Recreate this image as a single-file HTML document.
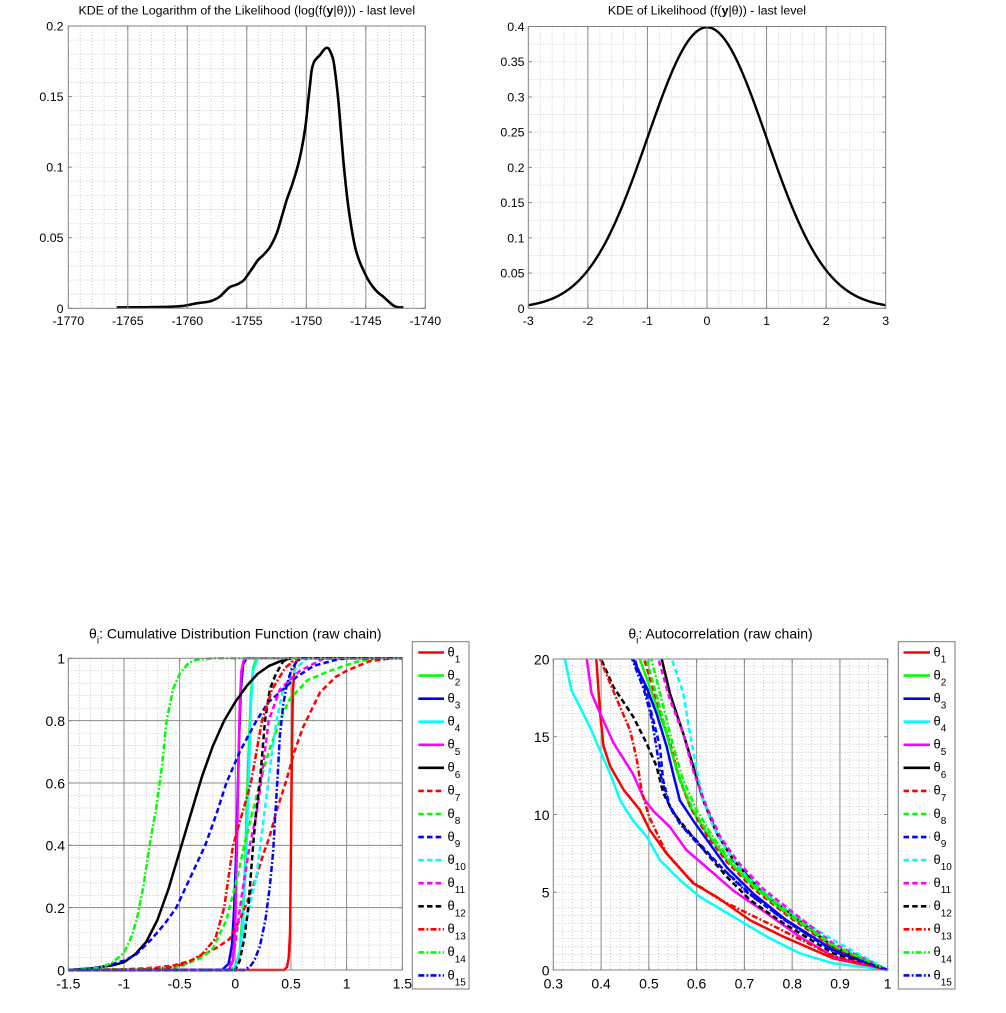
<!DOCTYPE html>
<html><head><meta charset="utf-8">
<style>
html,body{margin:0;padding:0;background:#fff;}
svg{display:block;font-family:"Liberation Sans",Arial,sans-serif;}
</style></head>
<body>
<svg id="s" width="1006" height="1013" viewBox="0 0 1006 1013" xmlns="http://www.w3.org/2000/svg">
<defs>
<clipPath id="c1"><rect x="68.3" y="25" width="357" height="284"/></clipPath>
<clipPath id="c2"><rect x="528.3" y="25.5" width="357.4" height="283.8"/></clipPath>
<clipPath id="c3"><rect x="67.3" y="657" width="336" height="314.5"/></clipPath>
<clipPath id="c4"><rect x="552.3" y="659" width="336.4" height="312.5"/></clipPath>
</defs>
<rect width="1006" height="1013" fill="#fff"/>
<g id="grid"></g>
<g id="curves"></g>
<g id="frames"></g>
<g id="legend"></g>

<g fill="#000">
<!-- Top-left -->
<text x="246.8" y="14.4" font-size="12.4" text-anchor="middle">KDE of the Logarithm of the Likelihood (log(f(<tspan font-weight="bold">y</tspan>|θ))) - last level</text>
<g font-size="12.4" text-anchor="middle">
<text x="68.3" y="325">-1770</text><text x="127.8" y="325">-1765</text><text x="187.3" y="325">-1760</text><text x="246.8" y="325">-1755</text><text x="306.3" y="325">-1750</text><text x="365.8" y="325">-1745</text><text x="425.3" y="325">-1740</text>
</g>
<g font-size="12.4" text-anchor="end">
<text x="63.5" y="312.8">0</text><text x="63.5" y="242.2">0.05</text><text x="63.5" y="171.7">0.1</text><text x="63.5" y="101.1">0.15</text><text x="63.5" y="30.5">0.2</text>
</g>

<!-- Top-right -->
<text x="707" y="14.4" font-size="12.4" text-anchor="middle">KDE of Likelihood (f(<tspan font-weight="bold">y</tspan>|θ)) - last level</text>
<g font-size="12.4" text-anchor="middle">
<text x="528.3" y="325">-3</text><text x="587.9" y="325">-2</text><text x="647.4" y="325">-1</text><text x="707" y="325">0</text><text x="766.6" y="325">1</text><text x="826.2" y="325">2</text><text x="885.7" y="325">3</text>
</g>
<g font-size="12.4" text-anchor="end">
<text x="524.5" y="312.8">0</text><text x="524.5" y="277.6">0.05</text><text x="524.5" y="242.4">0.1</text><text x="524.5" y="207.1">0.15</text><text x="524.5" y="171.9">0.2</text><text x="524.5" y="136.7">0.25</text><text x="524.5" y="101.5">0.3</text><text x="524.5" y="66.2">0.35</text><text x="524.5" y="31">0.4</text>
</g>

<!-- Bottom-left -->
<text x="235.3" y="638.5" font-size="14" text-anchor="middle">θ<tspan font-size="10" dy="5">i</tspan><tspan dy="-5">: Cumulative Distribution Function (raw chain)</tspan></text>
<g font-size="14" text-anchor="middle">
<text x="68.3" y="988.3">-1.5</text><text x="124" y="988.3">-1</text><text x="179.6" y="988.3">-0.5</text><text x="235.3" y="988.3">0</text><text x="291" y="988.3">0.5</text><text x="346.6" y="988.3">1</text><text x="402.3" y="988.3">1.5</text>
</g>
<g font-size="14" text-anchor="end">
<text x="65" y="975.3">0</text><text x="65" y="913">0.2</text><text x="65" y="850.6">0.4</text><text x="65" y="788.3">0.6</text><text x="65" y="725.9">0.8</text><text x="65" y="663.6">1</text>
</g>

<!-- Bottom-right -->
<text x="720.5" y="638.5" font-size="14" text-anchor="middle">θ<tspan font-size="10" dy="5">i</tspan><tspan dy="-5">: Autocorrelation (raw chain)</tspan></text>
<g font-size="14" text-anchor="middle">
<text x="553.3" y="988.3">0.3</text><text x="601.1" y="988.3">0.4</text><text x="648.9" y="988.3">0.5</text><text x="696.6" y="988.3">0.6</text><text x="744.4" y="988.3">0.7</text><text x="792.2" y="988.3">0.8</text><text x="840" y="988.3">0.9</text><text x="887.7" y="988.3">1</text>
</g>
<g font-size="14" text-anchor="end">
<text x="549.5" y="975.3">0</text><text x="549.5" y="897.6">5</text><text x="549.5" y="819.8">10</text><text x="549.5" y="742.1">15</text><text x="549.5" y="664.3">20</text>
</g>
</g>

<!-- legend boxes -->
<rect x="412.3" y="641.7" width="56.7" height="347.3" fill="#fff" stroke="#7a7a7a" stroke-width="1"/>
<rect x="898.3" y="641.7" width="56.7" height="347.3" fill="#fff" stroke="#7a7a7a" stroke-width="1"/>
<g id="leglines"></g>
<g font-size="13" fill="#000">
<text x="447.5" y="656.3">θ<tspan font-size="10" dy="6.2">1</tspan></text>
<text x="447.5" y="679.4">θ<tspan font-size="10" dy="6.2">2</tspan></text>
<text x="447.5" y="702.4">θ<tspan font-size="10" dy="6.2">3</tspan></text>
<text x="447.5" y="725.5">θ<tspan font-size="10" dy="6.2">4</tspan></text>
<text x="447.5" y="748.6">θ<tspan font-size="10" dy="6.2">5</tspan></text>
<text x="447.5" y="771.7">θ<tspan font-size="10" dy="6.2">6</tspan></text>
<text x="447.5" y="794.7">θ<tspan font-size="10" dy="6.2">7</tspan></text>
<text x="447.5" y="817.8">θ<tspan font-size="10" dy="6.2">8</tspan></text>
<text x="447.5" y="840.9">θ<tspan font-size="10" dy="6.2">9</tspan></text>
<text x="447.5" y="863.9">θ<tspan font-size="10" dy="6.2">10</tspan></text>
<text x="447.5" y="887">θ<tspan font-size="10" dy="6.2">11</tspan></text>
<text x="447.5" y="910.1">θ<tspan font-size="10" dy="6.2">12</tspan></text>
<text x="447.5" y="933.1">θ<tspan font-size="10" dy="6.2">13</tspan></text>
<text x="447.5" y="956.2">θ<tspan font-size="10" dy="6.2">14</tspan></text>
<text x="447.5" y="979.3">θ<tspan font-size="10" dy="6.2">15</tspan></text>

<text x="933.5" y="656.3">θ<tspan font-size="10" dy="6.2">1</tspan></text>
<text x="933.5" y="679.4">θ<tspan font-size="10" dy="6.2">2</tspan></text>
<text x="933.5" y="702.4">θ<tspan font-size="10" dy="6.2">3</tspan></text>
<text x="933.5" y="725.5">θ<tspan font-size="10" dy="6.2">4</tspan></text>
<text x="933.5" y="748.6">θ<tspan font-size="10" dy="6.2">5</tspan></text>
<text x="933.5" y="771.7">θ<tspan font-size="10" dy="6.2">6</tspan></text>
<text x="933.5" y="794.7">θ<tspan font-size="10" dy="6.2">7</tspan></text>
<text x="933.5" y="817.8">θ<tspan font-size="10" dy="6.2">8</tspan></text>
<text x="933.5" y="840.9">θ<tspan font-size="10" dy="6.2">9</tspan></text>
<text x="933.5" y="863.9">θ<tspan font-size="10" dy="6.2">10</tspan></text>
<text x="933.5" y="887">θ<tspan font-size="10" dy="6.2">11</tspan></text>
<text x="933.5" y="910.1">θ<tspan font-size="10" dy="6.2">12</tspan></text>
<text x="933.5" y="933.1">θ<tspan font-size="10" dy="6.2">13</tspan></text>
<text x="933.5" y="956.2">θ<tspan font-size="10" dy="6.2">14</tspan></text>
<text x="933.5" y="979.3">θ<tspan font-size="10" dy="6.2">15</tspan></text>
</g>
</svg>
<script>
(function(){
const NS="http://www.w3.org/2000/svg";
function el(tag,attrs,parent){const e=document.createElementNS(NS,tag);for(const k in attrs)e.setAttribute(k,attrs[k]);parent.appendChild(e);return e;}
const grid=document.getElementById('grid'),curves=document.getElementById('curves'),frames=document.getElementById('frames'),leg=document.getElementById('leglines');
const MAJ='#8c8c8c',MIN='#bdbdbd',BOX='#808080';
function isMul(v,s){const r=v/s;return Math.abs(r-Math.round(r))<1e-6;}
function mkAxes(a){
  const X=v=>a.L+(v-a.x0)/(a.x1-a.x0)*(a.R-a.L);
  const Y=v=>a.B-(v-a.y0)/(a.y1-a.y0)*(a.B-a.T);
  let n=Math.round((a.x1-a.x0)/a.xm);
  for(let i=1;i<n;i++){const v=a.x0+i*a.xm;const px=X(v);
    if(isMul(v-a.x0,a.xM)) el('line',{x1:px,x2:px,y1:a.T,y2:a.B,stroke:MAJ,'stroke-width':1},grid);
    else el('line',{x1:px,x2:px,y1:a.T,y2:a.B,stroke:MIN,'stroke-width':0.8,'stroke-dasharray':'1,2'},grid);}
  n=Math.round((a.y1-a.y0)/a.ym);
  for(let i=1;i<n;i++){const v=a.y0+i*a.ym;const py=Y(v);
    if(isMul(v-a.y0,a.yM)&&a.hSolid) el('line',{x1:a.L,x2:a.R,y1:py,y2:py,stroke:MAJ,'stroke-width':1},grid);
    else el('line',{x1:a.L,x2:a.R,y1:py,y2:py,stroke:MIN,'stroke-width':0.8,'stroke-dasharray':'1,2'},grid);}
  el('rect',{x:a.L,y:a.T,width:a.R-a.L,height:a.B-a.T,fill:'none',stroke:BOX,'stroke-width':1},frames);
  const tl=3.5;
  n=Math.round((a.x1-a.x0)/a.xM);
  for(let i=0;i<=n;i++){const px=X(a.x0+i*a.xM);
    el('line',{x1:px,x2:px,y1:a.B,y2:a.B-tl,stroke:BOX,'stroke-width':1},frames);
    el('line',{x1:px,x2:px,y1:a.T,y2:a.T+tl,stroke:BOX,'stroke-width':1},frames);}
  n=Math.round((a.y1-a.y0)/a.yM);
  for(let i=0;i<=n;i++){const py=Y(a.y0+i*a.yM);
    el('line',{x1:a.L,x2:a.L+tl,y1:py,y2:py,stroke:BOX,'stroke-width':1},frames);
    el('line',{x1:a.R,x2:a.R-tl,y1:py,y2:py,stroke:BOX,'stroke-width':1},frames);}
  return {X,Y};
}
const A1=mkAxes({L:68.3,T:26,R:425.3,B:308.3,x0:-1770,x1:-1740,y0:0,y1:0.2,xM:5,xm:1,yM:0.05,ym:0.01,hSolid:false});
const A2=mkAxes({L:528.3,T:26.5,R:885.7,B:308.3,x0:-3,x1:3,y0:0,y1:0.4,xM:1,xm:0.2,yM:0.05,ym:0.025,hSolid:false});
const A3=mkAxes({L:68.3,T:658.3,R:402.3,B:970,x0:-1.5,x1:1.5,y0:0,y1:1,xM:0.5,xm:0.1,yM:0.2,ym:0.04,hSolid:true});
const A4=mkAxes({L:553.3,T:659,R:887.7,B:970,x0:0.3,x1:1,y0:0,y1:20,xM:0.1,xm:0.02,yM:5,ym:0.5,hSolid:false});

function poly(pts){return 'M'+pts.map(p=>p[0].toFixed(2)+','+p[1].toFixed(2)).join('L');}
function smooth(pts){let d='M'+pts[0][0]+','+pts[0][1];
  for(let i=0;i<pts.length-1;i++){const p0=pts[i-1]||pts[i],p1=pts[i],p2=pts[i+1],p3=pts[i+2]||p2;
    const c1=[p1[0]+(p2[0]-p0[0])/6,p1[1]+(p2[1]-p0[1])/6];const c2=[p2[0]-(p3[0]-p1[0])/6,p2[1]-(p3[1]-p1[1])/6];
    d+='C'+c1[0].toFixed(2)+','+c1[1].toFixed(2)+' '+c2[0].toFixed(2)+','+c2[1].toFixed(2)+' '+p2[0].toFixed(2)+','+p2[1].toFixed(2);}
  return d;}

// top-left curve (pixel coords)
const tl=[[116.7,307.4],[140,307.3],[166.7,306.9],[180,306.2],[186.7,305.4],[193,304],[200,302.8],[206.7,302],[213.3,300.2],[220,296.5],[225,291.5],[230,287],[236.7,284.6],[243.3,280.7],[248,274.5],[253.3,267],[258,260],[263.3,255],[270,247],[276.7,233.3],[281.7,217],[286.7,200],[291.7,186],[296.7,170],[300,157],[303.3,140],[306,122],[308.3,100],[310,85],[311.7,70],[314,62],[316.7,58.3],[320,55],[323.3,50.5],[326,48],[328.3,48.3],[330.5,52],[333.3,60],[335.5,75],[338.3,100],[340.8,130],[343.3,160],[345.8,185],[348.3,206.7],[351.5,228],[355,246.7],[359,260],[363.3,270],[368,279.5],[373.3,287.3],[378,292.5],[383.3,296.7],[388,301],[393.3,305.5],[398,307.3],[403.3,307.4]];
el('path',{d:smooth(tl),fill:'none',stroke:'#000','stroke-width':2.6,'stroke-linejoin':'round','clip-path':'url(#c1)'},curves);

// top-right: normal pdf
const tr=[];for(let x=-3;x<=3.0001;x+=0.04){tr.push([A2.X(x),A2.Y(Math.exp(-x*x/2)/Math.sqrt(2*Math.PI))]);}
el('path',{d:poly(tr),fill:'none',stroke:'#000','stroke-width':2.4,'stroke-linejoin':'round','clip-path':'url(#c2)'},curves);

const DASH={s:null,d:'5.5,3.2',dd:'6,2.2,1.8,2.2'};
const COLS=['#ff0000','#00ff00','#0000ff','#00ffff','#ff00ff','#000000','#ff0000','#00ff00','#0000ff','#00ffff','#ff00ff','#000000','#ff0000','#00ff00','#0000ff'];
const STY=['s','s','s','s','s','s','d','d','d','d','d','d','dd','dd','dd'];

const cdf=[
[[-1.5,0],[0.44,0],[0.465,0.01],[0.48,0.04],[0.492,0.12],[0.5,0.4],[0.508,0.7],[0.518,0.9],[0.535,0.98],[0.57,1],[1.5,1]],
[[-1.5,0],[-0.05,0],[0.0,0.01],[0.04,0.06],[0.07,0.2],[0.09,0.35],[0.1,0.5],[0.12,0.7],[0.14,0.88],[0.16,0.97],[0.19,1],[1.5,1]],
[[-1.5,0],[-0.12,0],[-0.06,0.02],[-0.03,0.08],[-0.01,0.2],[0.01,0.4],[0.02,0.55],[0.035,0.75],[0.05,0.9],[0.07,0.98],[0.1,1],[1.5,1]],
[[-1.5,0],[-0.02,0],[0.03,0.03],[0.07,0.15],[0.1,0.4],[0.12,0.6],[0.14,0.85],[0.16,0.96],[0.2,1],[1.5,1]],
[[-1.5,0],[-0.06,0],[-0.02,0.03],[0.0,0.15],[0.015,0.4],[0.025,0.6],[0.04,0.85],[0.055,0.96],[0.08,1],[1.5,1]],
[[-1.5,0],[-1.3,0.005],[-1.1,0.015],[-1.0,0.025],[-0.9,0.05],[-0.8,0.09],[-0.7,0.16],[-0.6,0.26],[-0.5,0.38],[-0.4,0.5],[-0.3,0.62],[-0.2,0.72],[-0.1,0.8],[0.0,0.86],[0.1,0.91],[0.2,0.95],[0.3,0.975],[0.4,0.99],[0.5,1],[1.5,1]],
[[-1.5,0],[-1.0,0.002],[-0.7,0.008],[-0.55,0.015],[-0.4,0.03],[-0.28,0.05],[-0.15,0.075],[-0.05,0.1],[0.04,0.16],[0.12,0.23],[0.19,0.3],[0.25,0.37],[0.31,0.43],[0.37,0.51],[0.46,0.61],[0.53,0.7],[0.61,0.78],[0.76,0.89],[0.9,0.94],[1.0,0.96],[1.2,0.99],[1.4,1],[1.5,1]],
[[-1.5,0],[-1.0,0.002],[-0.7,0.005],[-0.5,0.01],[-0.3,0.04],[-0.2,0.07],[-0.08,0.16],[0.02,0.3],[0.08,0.4],[0.15,0.5],[0.22,0.6],[0.3,0.7],[0.4,0.8],[0.49,0.87],[0.65,0.93],[0.85,0.96],[1.1,0.99],[1.3,1],[1.5,1]],
[[-1.5,0],[-1.3,0.005],[-1.2,0.01],[-1.0,0.03],[-0.89,0.05],[-0.75,0.1],[-0.63,0.15],[-0.53,0.2],[-0.4,0.3],[-0.27,0.4],[-0.17,0.5],[-0.08,0.6],[0.04,0.7],[0.19,0.8],[0.3,0.86],[0.43,0.9],[0.55,0.94],[0.7,0.975],[0.9,0.995],[1.0,1],[1.5,1]],
[[-1.5,0],[-0.02,0],[0.03,0.04],[0.1,0.16],[0.19,0.3],[0.26,0.5],[0.33,0.7],[0.37,0.8],[0.43,0.9],[0.55,0.97],[0.65,1],[1.5,1]],
[[-1.5,0],[-0.05,0],[0.0,0.085],[0.06,0.245],[0.13,0.4],[0.19,0.5],[0.23,0.6],[0.3,0.8],[0.4,0.9],[0.58,0.96],[0.8,1],[1.5,1]],
[[-1.5,0],[0.0,0],[0.04,0.03],[0.08,0.1],[0.117,0.2],[0.16,0.4],[0.185,0.5],[0.22,0.6],[0.267,0.8],[0.31,0.9],[0.365,0.95],[0.43,0.99],[0.49,1],[1.5,1]],
[[-1.5,0],[-0.8,0.002],[-0.6,0.008],[-0.45,0.02],[-0.3,0.05],[-0.18,0.1],[-0.1,0.2],[-0.06,0.3],[-0.02,0.4],[0.06,0.5],[0.14,0.6],[0.19,0.7],[0.24,0.8],[0.33,0.9],[0.45,0.97],[0.55,1],[1.5,1]],
[[-1.5,0],[-1.3,0.003],[-1.19,0.01],[-1.1,0.025],[-1.0,0.055],[-0.94,0.1],[-0.886,0.16],[-0.826,0.267],[-0.77,0.4],[-0.71,0.52],[-0.66,0.65],[-0.617,0.8],[-0.56,0.9],[-0.5,0.95],[-0.42,0.985],[-0.35,0.995],[-0.2,1],[1.5,1]],
[[-1.5,0],[0.08,0],[0.13,0.01],[0.17,0.03],[0.22,0.075],[0.27,0.16],[0.31,0.267],[0.34,0.38],[0.356,0.48],[0.38,0.62],[0.4,0.75],[0.43,0.85],[0.46,0.91],[0.5,0.96],[0.55,0.99],[0.6,1],[1.5,1]]
];
const ac=[
[[0.388,21],[0.39,20],[0.398,16.5],[0.405,14.4],[0.419,13.1],[0.447,11.6],[0.481,10.3],[0.502,9.0],[0.537,7.5],[0.593,5.57],[0.642,4.7],[0.712,3.2],[0.782,2.14],[0.886,0.75],[1,0]],
[[0.475,21],[0.481,20],[0.509,17.6],[0.537,15.2],[0.558,12.9],[0.586,10.5],[0.621,8.8],[0.663,7.07],[0.719,5.36],[0.788,3.64],[0.886,1.5],[1,0]],
[[0.462,21],[0.467,20],[0.495,18.2],[0.516,16.5],[0.537,14.4],[0.551,12.6],[0.565,10.9],[0.593,9.6],[0.621,8.4],[0.663,6.6],[0.719,4.9],[0.788,3.2],[0.886,1.29],[1,0]],
[[0.318,21],[0.324,20],[0.338,18],[0.356,16.9],[0.377,15.6],[0.401,13.9],[0.422,12.4],[0.44,10.9],[0.467,9.6],[0.495,8.6],[0.523,7.07],[0.565,5.79],[0.607,4.7],[0.677,3.43],[0.747,2.14],[0.816,1.07],[0.886,0.43],[1,0]],
[[0.365,21],[0.37,20],[0.38,17.8],[0.398,16.5],[0.426,14.6],[0.467,12.6],[0.49,11],[0.51,10.2],[0.544,9.2],[0.579,7.7],[0.621,6.6],[0.677,5.1],[0.747,3.64],[0.816,2.14],[0.886,0.86],[1,0]],
[[0.523,21],[0.527,20],[0.544,17.8],[0.572,15.2],[0.593,13.1],[0.614,10.9],[0.642,8.8],[0.677,7.07],[0.733,5.14],[0.803,3.43],[0.886,1.5],[1,0]],
[[0.484,21],[0.49,20],[0.52,17],[0.545,14.5],[0.565,12.2],[0.59,10.3],[0.625,8.5],[0.665,6.9],[0.72,5.2],[0.79,3.5],[0.886,1.45],[1,0]],
[[0.489,21],[0.495,20],[0.523,16.9],[0.544,14.4],[0.565,12.2],[0.593,10.3],[0.63,8.5],[0.67,6.9],[0.725,5.2],[0.795,3.5],[0.886,1.55],[1,0]],
[[0.465,21],[0.47,20],[0.495,17.8],[0.509,16.1],[0.523,14.4],[0.53,12.2],[0.544,10.5],[0.572,9.2],[0.61,8.0],[0.655,6.5],[0.715,4.8],[0.785,3.2],[0.886,1.25],[1,0]],
[[0.543,21],[0.548,20],[0.572,17.8],[0.586,15.2],[0.6,12.9],[0.614,10.9],[0.635,9.2],[0.663,7.7],[0.705,6.0],[0.761,4.5],[0.83,3.0],[0.886,1.93],[1,0]],
[[0.515,21],[0.52,20],[0.544,17.4],[0.572,15.2],[0.593,12.8],[0.621,10.5],[0.649,8.6],[0.685,7.0],[0.74,5.2],[0.81,3.5],[0.886,1.7],[1,0]],
[[0.395,21],[0.4,20],[0.426,18.2],[0.467,16.3],[0.495,14.6],[0.516,13.1],[0.53,11.4],[0.551,10.1],[0.586,8.8],[0.621,7.5],[0.663,6.0],[0.712,4.5],[0.782,3.0],[0.886,1.07],[1,0]],
[[0.393,21],[0.398,20],[0.433,17.4],[0.461,15.4],[0.475,13.5],[0.485,11.5],[0.5,9.9],[0.537,7.5],[0.59,5.7],[0.65,4.5],[0.75,3.0],[0.886,0.9],[1,0]],
[[0.5,21],[0.505,20],[0.53,17],[0.55,14.5],[0.572,12.2],[0.6,10.3],[0.635,8.5],[0.675,6.9],[0.73,5.2],[0.8,3.5],[0.886,1.6],[1,0]],
[[0.46,21],[0.465,20],[0.49,18],[0.505,16.3],[0.515,14.5],[0.525,12.5],[0.54,10.8],[0.565,9.4],[0.6,8.2],[0.645,6.8],[0.705,5.0],[0.78,3.3],[0.886,1.2],[1,0]]
];
function drawSet(data,A,clip){
  data.forEach((pts,i)=>{
    const p=pts.map(q=>[A.X(q[0]),A.Y(q[1])]);
    const at={d:poly(p),fill:'none',stroke:COLS[i],'stroke-width':2.5,'stroke-linejoin':'round','clip-path':clip};
    if(DASH[STY[i]]) at['stroke-dasharray']=DASH[STY[i]];
    el('path',at,curves);
  });
}
drawSet(cdf,A3,'url(#c3)');
drawSet(ac,A4,'url(#c4)');

// legend lines
[[418.3,444],[903.5,930]].forEach(r=>{
  for(let k=0;k<15;k++){const y=652.5+k*23.07;
    const at={x1:r[0],x2:r[1],y1:y,y2:y,stroke:COLS[k],'stroke-width':2.6};
    if(DASH[STY[k]]) at['stroke-dasharray']=DASH[STY[k]];
    el('line',at,leg);}
});
})();
</script>
</body></html>
